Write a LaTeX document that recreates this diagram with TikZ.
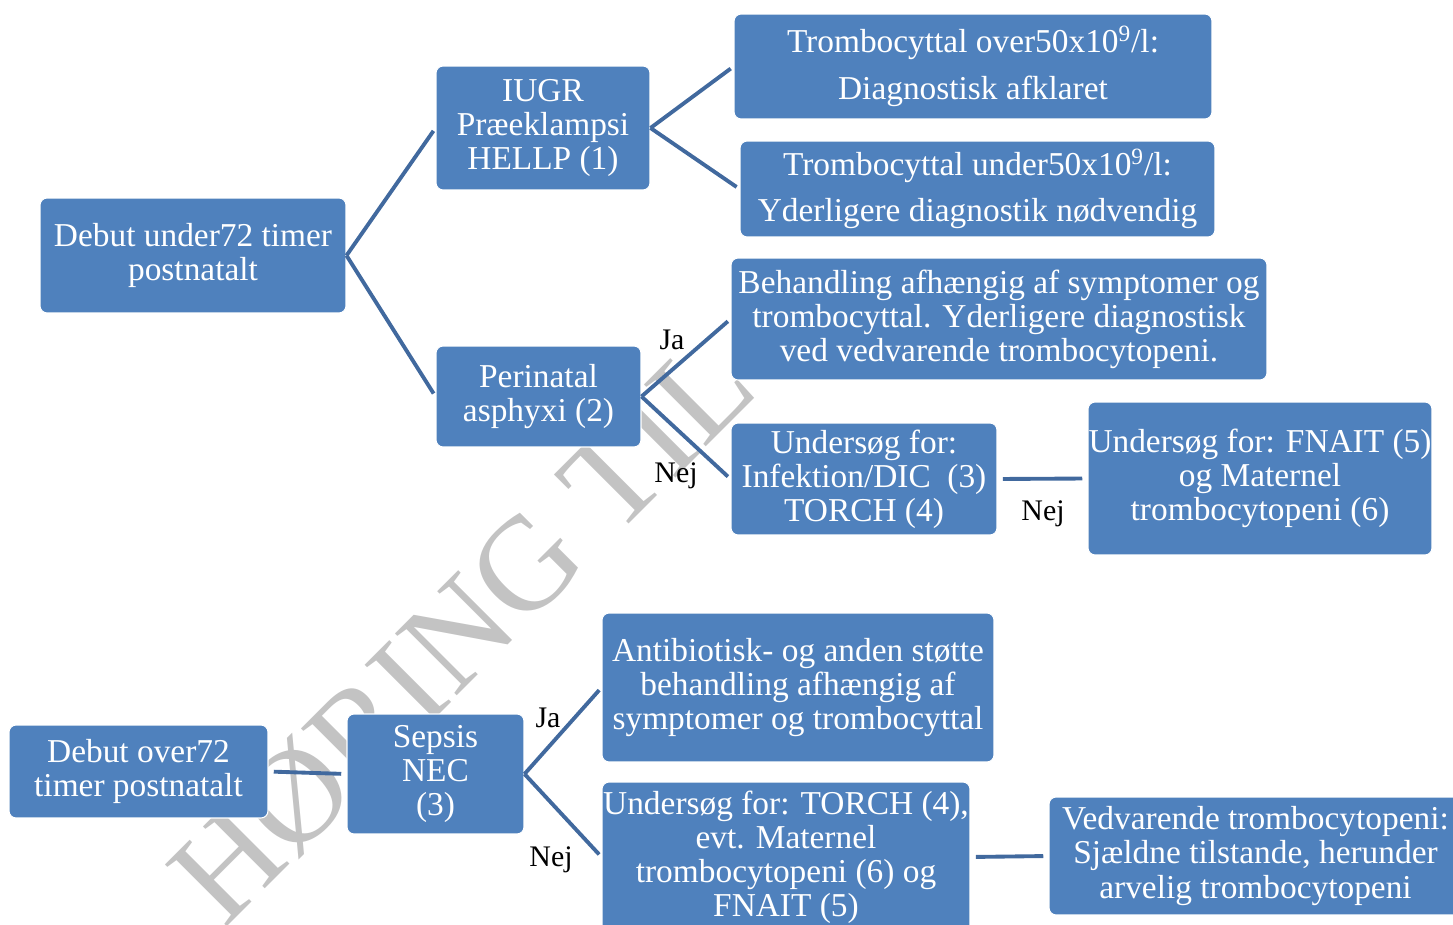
\documentclass[tikz,border=0pt]{standalone}
\usepackage{fontspec}
\setmainfont{Liberation Serif}
\definecolor{boxblue}{HTML}{4F81BD}
\definecolor{linkblue}{HTML}{41699E}
\definecolor{wmgray}{HTML}{C3C3C3}

\begin{document}
\begin{tikzpicture}[x=0.02cm, y=-0.02cm,
  box/.style={draw=white, line width=0.6pt, fill=boxblue, rounded corners=4pt,
    text=white, align=center, inner sep=0pt, font=\fontsize{19}{19.4}\selectfont},
  link/.style={draw=linkblue, line width=2.2pt, shorten >=2pt},
  flat/.style={link, shorten <=3pt, shorten >=3pt},
  answer/.style={text=black, inner sep=0pt, font=\fontsize{17}{17}\selectfont},
  wmark/.style={text=wmgray, inner sep=0pt, font=\fontsize{76}{76}\selectfont}]

  % Page frame
  \useasboundingbox (0,0) rectangle (1453,925);
  \clip (0,0) rectangle (1453,925);

  % Watermark behind everything
  \node[wmark, rotate=45] (wm) at (462,630) {HØRING TIL};

  % Under 72 hours
  \node[box, minimum width=6.12cm, minimum height=2.3cm] (early) at (193,255.5)
    {Debut under72 timer\\postnatalt};
  \node[box, minimum width=4.28cm, minimum height=2.48cm] (iugr) at (543,128)
    {IUGR\\Præeklampsi\\HELLP (1)};
  \node[box, minimum width=9.56cm, minimum height=2.1cm] (over50) at (973,66.5)
    {Trombocyttal over50x10\textsuperscript{9}/l:\\[7pt]Diagnostisk afklaret};
  \node[box, minimum width=9.5cm, minimum height=1.92cm] (under50) at (977.5,189)
    {Trombocyttal under50x10\textsuperscript{9}/l:\\[7pt]Yderligere diagnostik nødvendig};
  \node[box, minimum width=4.1cm, minimum height=2.02cm] (asphyxi) at (538.5,396.5)
    {Perinatal\\asphyxi (2)};
  \node[box, minimum width=10.72cm, minimum height=2.44cm] (treat) at (999,319)
    {Behandling afhængig af symptomer og\\trombocyttal. Yderligere diagnostisk\\ved vedvarende trombocytopeni.};
  \node[box, minimum width=5.32cm, minimum height=2.24cm] (infek) at (864,479)
    {Undersøg for:\\Infektion/DIC~~(3)\\TORCH (4)};
  \node[box, minimum width=6.88cm, minimum height=3.06cm] (fnait) at (1260,478.5)
    {Undersøg for: FNAIT (5)\\og Maternel\\trombocytopeni (6)};

  % Over 72 hours
  \node[box, minimum width=5.18cm, minimum height=1.86cm] (late) at (138.5,771.5)
    {Debut over72\\timer postnatalt};
  \node[box, minimum width=3.54cm, minimum height=2.4cm] (sepsis) at (435.5,774)
    {Sepsis\\NEC\\(3)};
  \node[box, minimum width=7.84cm, minimum height=2.98cm] (antib) at (798,687.5)
    {Antibiotisk- og anden støtte\\behandling afhængig af\\symptomer og trombocyttal};
  \node[box, minimum width=7.36cm, minimum height=3cm] (torch) at (786,857)
    {Undersøg for: TORCH (4),\\evt. Maternel\\trombocytopeni (6) og\\FNAIT (5)};
  \node[box, minimum width=8.26cm, minimum height=2.36cm] (rare) at (1255.5,856)
    {Vedvarende trombocytopeni:\\Sjældne tilstande, herunder\\arvelig trombocytopeni};

  % Connectors
  \draw[link] (early.east) -- (iugr.west);
  \draw[link] (early.east) -- (asphyxi.west);
  \draw[link] (iugr.east) -- (over50.west);
  \draw[link] (iugr.east) -- (under50.west);
  \draw[link] (asphyxi.east) -- (treat.west);
  \draw[link] (asphyxi.east) -- (infek.west);
  \draw[flat] (infek.east) -- (fnait.west);
  \draw[flat] (late.east) -- (sepsis.west);
  \draw[link] (sepsis.east) -- (antib.west);
  \draw[link] (sepsis.east) -- (torch.west);
  \draw[flat] (torch.east) -- (rare.west);

  % Answers
  \node[answer] (ja1) at (672,340) {Ja};
  \node[answer] (nej1) at (676,476) {Nej};
  \node[answer] (nej2) at (1043,514) {Nej};
  \node[answer] (ja2) at (548,718) {Ja};
  \node[answer] (nej3) at (551,860) {Nej};
\end{tikzpicture}
\end{document}
